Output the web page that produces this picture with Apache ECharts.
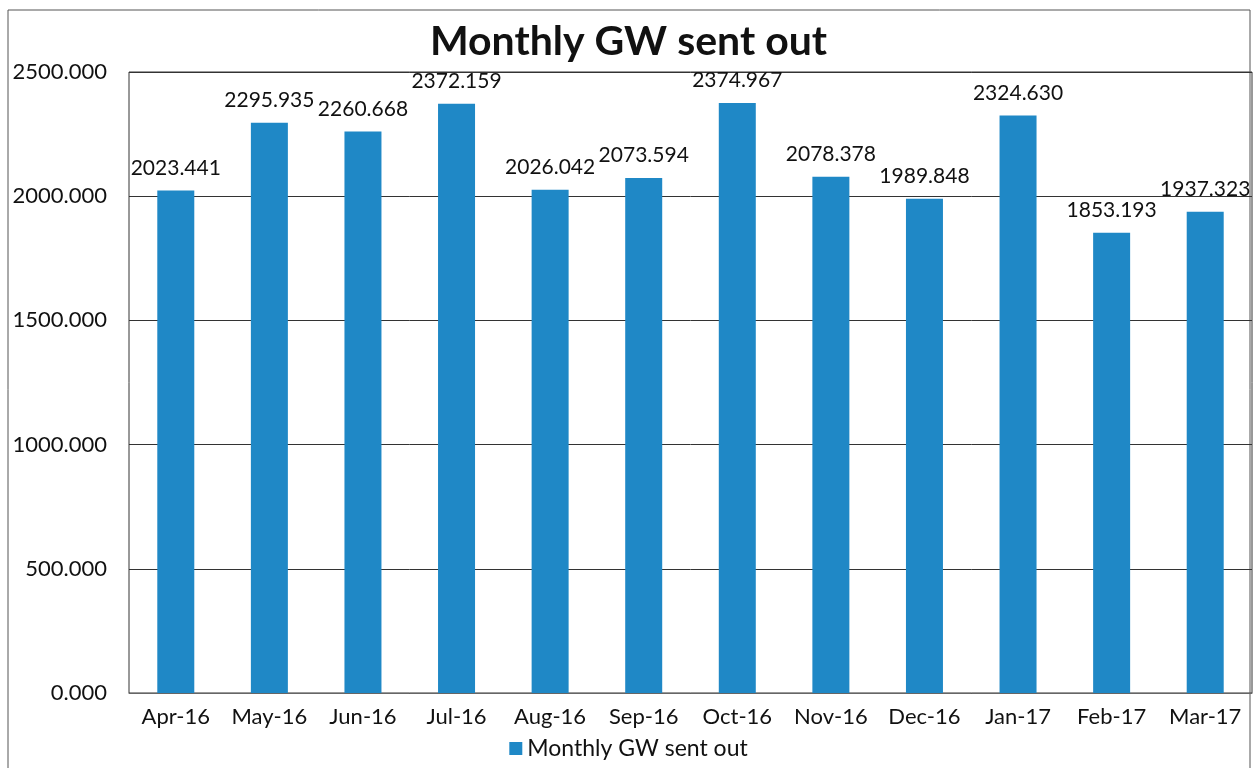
<!DOCTYPE html>
<html>
<head>
<meta charset="utf-8">
<script src="https://cdn.jsdelivr.net/npm/echarts@6/dist/echarts.min.js"></script>
<style>
  html, body { margin: 0; padding: 0; background: #fff; }
  #chart { width: 1257px; height: 768px; }
</style>
</head>
<body>
<div id="chart"></div>
<script>
// 月份与数值
const months = ['Apr-16', 'May-16', 'Jun-16', 'Jul-16', 'Aug-16', 'Sep-16',
  'Oct-16', 'Nov-16', 'Dec-16', 'Jan-17', 'Feb-17', 'Mar-17'];
const sentOut = [2023.441, 2295.935, 2260.668, 2372.159, 2026.042, 2073.594,
  2374.967, 2078.378, 1989.848, 2324.630, 1853.193, 1937.323];
const seriesName = 'Monthly GW sent out';

const chart = echarts.init(document.getElementById('chart'));
const font = 'Lato, "Open Sans", sans-serif';

chart.setOption({
  animation: false,
  textStyle: { fontFamily: font },
  graphic: [
    // outer frame
    { type: 'rect', shape: { x: 8, y: 10, width: 1242, height: 770 },
      style: { fill: null, stroke: '#555', lineWidth: 1 }, silent: true }
  ],
  title: {
    text: 'Monthly GW sent out',
    left: 'center',
    top: 16,
    textStyle: { fontFamily: font, fontSize: 41, fontWeight: 'bold', color: '#111' }
  },
  legend: {
    data: [seriesName],
    bottom: 3,
    left: 'center',
    icon: 'rect',
    itemWidth: 13,
    itemHeight: 13,
    itemGap: 6,
    textStyle: { fontFamily: font, fontSize: 23, color: '#111' }
  },
  grid: { left: 129, right: 5, top: 72, bottom: 75, show: true, borderColor: '#333', borderWidth: 1 },
  xAxis: {
    type: 'category',
    data: months,
    axisTick: { show: false },
    axisLine: { lineStyle: { color: '#666' } },
    axisLabel: { fontFamily: font, fontSize: 22, color: '#111', margin: 13, interval: 0 }
  },
  yAxis: {
    type: 'value',
    min: 0,
    max: 2500,
    interval: 500,
    axisLine: { show: false },
    axisTick: { show: false },
    splitLine: { lineStyle: { color: '#333', width: 1 } },
    axisLabel: {
      fontFamily: font, fontSize: 22, color: '#111', margin: 22,
      formatter: v => v.toFixed(3)
    }
  },
  series: [{
    name: seriesName,
    type: 'bar',
    data: sentOut,
    barWidth: 37,
    itemStyle: { color: '#1f88c6' },
    label: {
      show: true,
      position: 'top',
      distance: 12,
      fontFamily: font,
      fontSize: 21,
      color: '#111',
      formatter: p => p.value.toFixed(3)
    }
  }]
});
</script>
</body>
</html>
